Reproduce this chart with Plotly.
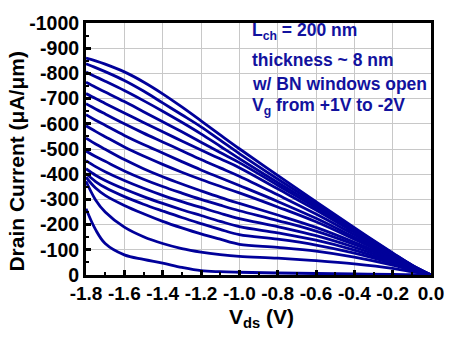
import plotly.graph_objects as go

# Drain-source voltage sweep (V)
vds = [-1.8, -1.75, -1.7, -1.6, -1.5, -1.4, -1.3, -1.2, -1.1, -1.0, -0.8, -0.6, -0.4, -0.2, -0.1, 0.0]

# Drain current (uA/um) for each gate voltage, Vg = -2.0 V ... +1.0 V in 0.2 V steps
id_vg_m20 = [-861, -850, -837, -806, -766, -719, -667, -612, -556, -501, -395, -291, -188, -88, -40, 0]
id_vg_m18 = [-838, -823, -807, -772, -730, -683, -636, -588, -535, -482, -381, -283, -183, -86, -39, 0]
id_vg_m16 = [-805, -787, -769, -732, -692, -650, -606, -560, -511, -462, -367, -275, -179, -84, -38, 0]
id_vg_m14 = [-765, -745, -726, -688, -648, -608, -568, -527, -486, -446, -356, -267, -174, -82, -37, 0]
id_vg_m12 = [-720, -700, -681, -643, -605, -568, -532, -496, -461, -426, -342, -258, -169, -80, -36, 0]
id_vg_m10 = [-680, -659, -639, -600, -563, -528, -493, -458, -425, -392, -318, -242, -160, -77, -35, 0]
id_vg_m08 = [-636, -614, -594, -554, -518, -484, -450, -417, -386, -355, -292, -225, -150, -73, -33, 0]
id_vg_m06 = [-592, -570, -549, -508, -472, -439, -408, -379, -352, -326, -270, -211, -142, -70, -32, 0]
id_vg_m04 = [-543, -520, -499, -458, -422, -390, -361, -334, -308, -284, -238, -189, -130, -65, -30, 0]
id_vg_m02 = [-492, -470, -451, -413, -380, -351, -325, -300, -277, -255, -216, -174, -121, -61, -28, 0]
id_vg_p00 = [-454, -430, -410, -375, -344, -316, -291, -268, -245, -224, -192, -156, -110, -56, -26, 0]
id_vg_p02 = [-422, -396, -375, -341, -311, -284, -259, -236, -213, -192, -167, -138, -99, -51, -24, 0]
id_vg_p04 = [-403, -371, -347, -311, -281, -254, -228, -204, -181, -160, -142, -119, -87, -46, -22, 0]
id_vg_p06 = [-388, -345, -316, -276, -243, -213, -187, -163, -142, -122, -110, -95, -71, -39, -19, 0]
id_vg_p08 = [-372, -298, -250, -190, -152, -125, -105, -91, -81, -74, -67, -57, -44, -26, -13, 0]
id_vg_p10 = [-263, -180, -125, -80, -62, -47, -30, -17, -13, -11, -8, -6, -4, -2, -1, 0]

vg_labels = ["-2.0", "-1.8", "-1.6", "-1.4", "-1.2", "-1.0", "-0.8", "-0.6",
             "-0.4", "-0.2", "0.0", "+0.2", "+0.4", "+0.6", "+0.8", "+1.0"]
curves = [id_vg_m20, id_vg_m18, id_vg_m16, id_vg_m14, id_vg_m12, id_vg_m10, id_vg_m08, id_vg_m06,
          id_vg_m04, id_vg_m02, id_vg_p00, id_vg_p02, id_vg_p04, id_vg_p06, id_vg_p08, id_vg_p10]

x_tickvals = [-1.8, -1.6, -1.4, -1.2, -1.0, -0.8, -0.6, -0.4, -0.2, 0.0]
x_ticktext = ["-1.8", "-1.6", "-1.4", "-1.2", "-1.0", "-0.8", "-0.6", "-0.4", "-0.2", "0.0"]
x_minorvals = [-1.7, -1.5, -1.3, -1.1, -0.9, -0.7, -0.5, -0.3, -0.1]
y_tickvals = [-1000, -900, -800, -700, -600, -500, -400, -300, -200, -100, 0]
y_ticktext = ["-1000", "-900", "-800", "-700", "-600", "-500", "-400", "-300", "-200", "-100", "0"]
y_minorvals = [-950, -850, -750, -650, -550, -450, -350, -250, -150, -50]

info_lines = ["L<sub>ch</sub> = 200 nm", "thickness ~ 8 nm",
              "w/ BN windows open", "V<sub>g</sub> from +1V to -2V"]

LINE_BLUE = "#00009a"
TEXT_BLUE = "#12129e"
FONT = "Liberation Sans, Arial, sans-serif"

fig = go.Figure()
for lab, cur in zip(vg_labels, curves):
    fig.add_trace(go.Scatter(
        x=vds, y=cur, mode="lines", name=f"Vg = {lab} V",
        line=dict(color=LINE_BLUE, width=2.8, shape="spline", smoothing=1.0),
        showlegend=False,
    ))

axis_common = dict(
    showline=True, linecolor="black", linewidth=3, mirror=True,
    showgrid=True, gridcolor="#c8c8c8", gridwidth=1,
    ticks="inside", ticklen=5, tickwidth=2.5, tickcolor="black",
    zeroline=False, tickmode="array",
)

fig.update_xaxes(
    range=[-1.8, 0.0], tickvals=x_tickvals, ticktext=x_ticktext,
    tickfont=dict(family=FONT, size=19, color="black", weight="bold"),
    ticklabelstandoff=-1,
    minor=dict(ticks="inside", ticklen=3, tickwidth=2, tickcolor="black",
               tickvals=x_minorvals, showgrid=False),
    **axis_common,
)
fig.update_yaxes(
    range=[0, -1000], tickvals=y_tickvals, ticktext=y_ticktext,
    tickfont=dict(family=FONT, size=19.5, color="black", weight="bold"),
    minor=dict(ticks="inside", ticklen=3, tickwidth=2, tickcolor="black",
               tickvals=y_minorvals, showgrid=False),
    **axis_common,
)

annotations = [
    dict(text="Drain Current (\u03bcA/\u03bcm)", xref="paper", yref="paper",
         x=-0.2, y=0.45, textangle=-90, showarrow=False,
         xanchor="center", yanchor="middle",
         font=dict(family=FONT, size=21, color="black", weight="bold")),
    dict(text="V<sub>ds</sub> (V)", xref="paper", yref="paper",
         x=0.51, y=-0.172, showarrow=False, xanchor="center", yanchor="middle",
         font=dict(family=FONT, size=21, color="black", weight="bold")),
]
info_y = [0.967, 0.855, 0.759, 0.670]
for txt, yy in zip(info_lines, info_y):
    annotations.append(dict(
        text=txt, xref="paper", yref="paper", x=0.476, y=yy,
        xanchor="left", yanchor="middle", showarrow=False,
        font=dict(family=FONT, size=17.5, color=TEXT_BLUE, weight="bold"),
    ))

fig.update_layout(
    width=456, height=337, autosize=False,
    margin=dict(l=86, r=13, t=13, b=62),
    paper_bgcolor="white", plot_bgcolor="white",
    annotations=annotations,
)

fig.write_html("out.html")
